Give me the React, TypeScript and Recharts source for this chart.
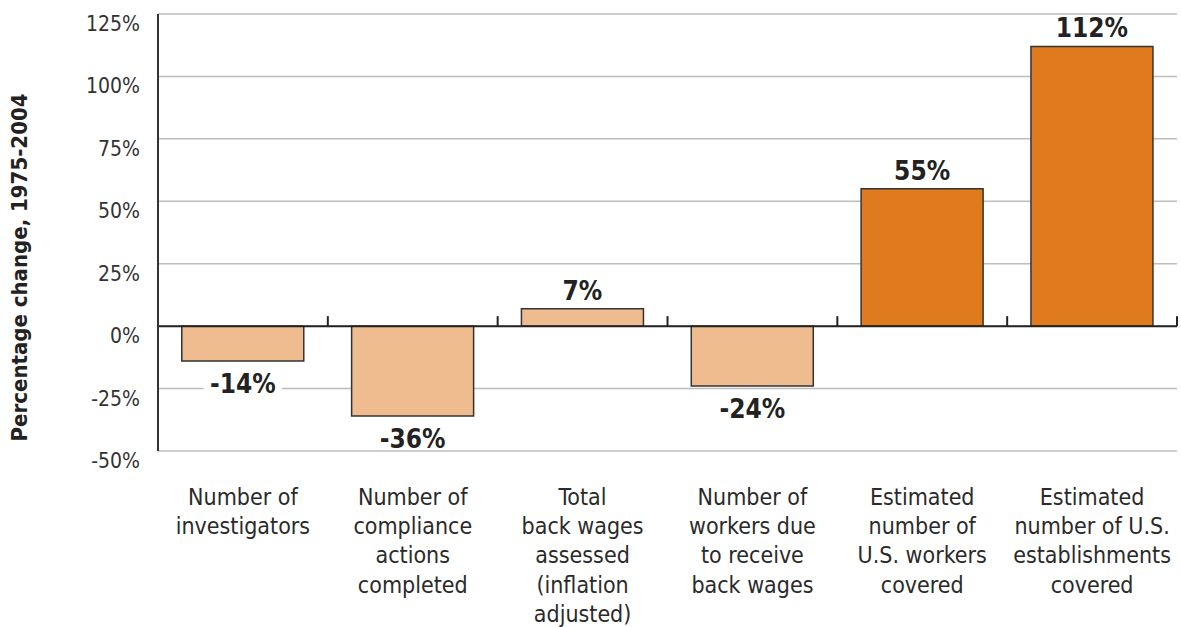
import React from 'react';
import { BarChart, Bar, XAxis, YAxis, CartesianGrid, ReferenceLine, Cell, LabelList } from 'recharts';

const categoryLines: string[][] = [
  ['Number of', 'investigators'],
  ['Number of', 'compliance', 'actions', 'completed'],
  ['Total', 'back wages', 'assessed', '(inflation', 'adjusted)'],
  ['Number of', 'workers due', 'to receive', 'back wages'],
  ['Estimated', 'number of', 'U.S. workers', 'covered'],
  ['Estimated', 'number of U.S.', 'establishments', 'covered'],
];
const changeValues = [-14, -36, 7, -24, 55, 112];
const measureTypes = ['enforcement', 'enforcement', 'enforcement', 'enforcement', 'coverage', 'coverage'];
const yTicks = [-50, -25, 0, 25, 50, 75, 100, 125];

const typeColors: Record<string, string> = { enforcement: '#EEBC8E', coverage: '#DF7A1E' };

const data = categoryLines.map((lines, i) => ({
  name: lines.join(' '),
  lines,
  value: changeValues[i],
  type: measureTypes[i],
}));

const NARROW = "'Liberation Sans Narrow', 'DejaVu Sans Condensed', Roboto, sans-serif";

const YTick = (props: any) => {
  const { x, y, payload } = props;
  return (
    <text x={x} y={y + 10} textAnchor="end" dominantBaseline="central" fontFamily={NARROW} fontSize={21} fill="#333">
      {`${payload.value}%`}
    </text>
  );
};

const XTick = (props: any) => {
  const { x, y, index } = props;
  const lines = data[index] ? data[index].lines : [];
  return (
    <text x={x} textAnchor="middle" fontFamily={NARROW} fontSize={23} fill="#2a2a2a">
      {lines.map((l: string, i: number) => (
        <tspan key={i} x={x} y={y + 46 + i * 29.2}>{l}</tspan>
      ))}
    </text>
  );
};

// Category boundary ticks drawn on the zero line, derived from the line's viewBox
const ZeroTicks = (props: any) => {
  const vb = props.viewBox || {};
  const n = data.length;
  const items = [];
  for (let k = 1; k <= n; k++) {
    const xx = vb.x + (vb.width * k) / n;
    items.push(<line key={k} x1={xx} x2={xx} y1={vb.y - 10} y2={vb.y} stroke="#222" strokeWidth={2} />);
  }
  return <g>{items}</g>;
};

const ValueLabel = (props: any) => {
  const { x, y, width, height, value } = props;
  const top = Math.min(y, y + height);
  const bottom = Math.max(y, y + height);
  const cx = x + width / 2;
  const cy = value < 0 ? bottom + 23 : top - 18;
  const label = `${value}%`;
  const w = label.length * 15 + 18;
  return (
    <g>
      <rect x={cx - w / 2} y={cy - 11} width={w} height={22} fill="#fff" />
      <text x={cx} y={cy} textAnchor="middle" dominantBaseline="central" fontFamily={NARROW} fontWeight="bold" fontSize={26} fill="#222">
        {label}
      </text>
    </g>
  );
};

export default function App() {
  return (
    <div style={{ position: 'absolute', left: 0, top: 0, width: 1181, height: 627, background: '#fff' }}>
      <BarChart width={1181} height={627} data={data} margin={{ top: 14, right: 4, left: 0, bottom: 0 }} barCategoryGap="14%">
        <CartesianGrid vertical={false} stroke="#bdbdbd" strokeWidth={1.5} />
        <XAxis dataKey="name" height={176} axisLine={false} tickLine={false} interval={0} tick={<XTick />} />
        <YAxis
          width={158}
          domain={[-50, 125]}
          ticks={yTicks}
          interval={0}
          axisLine={{ stroke: '#333', strokeWidth: 2 }}
          tickLine={false}
          tickSize={0}
          tickMargin={18}
          tick={<YTick />}
          label={{
            value: 'Percentage change, 1975-2004',
            angle: -90,
            position: 'insideLeft',
            dx: 14,
            dy: 35,
            style: { fontFamily: NARROW, fontWeight: 'bold', fontSize: 22, fill: '#222', textAnchor: 'middle' },
          }}
        />
        <ReferenceLine y={0} stroke="#222" strokeWidth={2} label={<ZeroTicks />} />
        <Bar dataKey="value" isAnimationActive={false} stroke="#333" strokeWidth={1.5}>
          {data.map((d, i) => (
            <Cell key={i} fill={typeColors[d.type]} />
          ))}
          <LabelList dataKey="value" content={<ValueLabel />} />
        </Bar>
      </BarChart>
    </div>
  );
}
